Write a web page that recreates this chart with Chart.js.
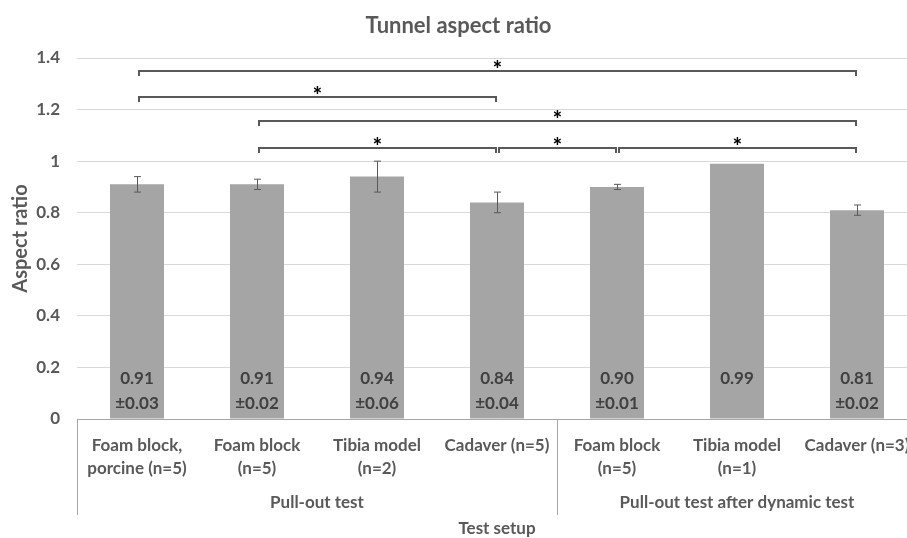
<!DOCTYPE html>
<html>
<head>
<meta charset="utf-8">
<script src="https://cdn.jsdelivr.net/npm/chart.js@4/dist/chart.umd.min.js"></script>
<style>
  html, body { margin: 0; padding: 0; background: #fff; overflow: hidden; }
  #wrap { width: 940px; height: 538px; }
</style>
</head>
<body>
<div id="wrap"><canvas id="aspectChart"></canvas></div>
<script>
// data
const categories = [
  ['Foam block,', 'porcine (n=5)'],
  ['Foam block', '(n=5)'],
  ['Tibia model', '(n=2)'],
  ['Cadaver (n=5)'],
  ['Foam block', '(n=5)'],
  ['Tibia model', '(n=1)'],
  ['Cadaver (n=3)']
];
const ratios = [0.91, 0.91, 0.94, 0.84, 0.90, 0.99, 0.81];
const errors = [0.03, 0.02, 0.06, 0.04, 0.01, null, 0.02];
const yTickLabels = ['0', '0.2', '0.4', '0.6', '0.8', '1', '1.2', '1.4'];

// groups of the x axis
const groupNames = ['Pull-out test', 'Pull-out test after dynamic test'];
const groupStart = [0, 4];
const groupEnd = [3, 6];

// significance brackets (category index from/to, height in axis units)
const sigFrom = [0, 0, 1, 1, 3, 4];
const sigTo = [6, 3, 6, 3, 4, 6];
const sigLevel = [1.35, 1.25, 1.155, 1.05, 1.05, 1.05];

const textGrey = '#595959';
const font = 'Lato, "Open Sans", sans-serif';

// error bars, value labels, brackets, group labels
const extras = {
  id: 'extras',
  afterDatasetsDraw(chart) {
    const ctx = chart.ctx;
    const x = chart.scales.x;
    const y = chart.scales.y;
    const base = y.getPixelForValue(0);
    ctx.save();

    // error bars
    ctx.strokeStyle = textGrey;
    ctx.lineWidth = 1;
    ratios.forEach((v, i) => {
      if (errors[i] == null) return;
      const cx = Math.round(x.getPixelForValue(i)) + 0.5;
      const top = y.getPixelForValue(v + errors[i]);
      const bot = y.getPixelForValue(v - errors[i]);
      ctx.beginPath();
      ctx.moveTo(cx, top); ctx.lineTo(cx, bot);
      ctx.moveTo(cx - 3.5, top); ctx.lineTo(cx + 3.5, top);
      ctx.moveTo(cx - 3.5, bot); ctx.lineTo(cx + 3.5, bot);
      ctx.stroke();
    });

    // labels inside the bars
    ctx.fillStyle = '#404040';
    ctx.font = 'bold 17px ' + font;
    ctx.textAlign = 'center';
    ctx.textBaseline = 'middle';
    ratios.forEach((v, i) => {
      const cx = x.getPixelForValue(i);
      ctx.fillText(v.toFixed(2), cx, base - 40);
      if (errors[i] != null) ctx.fillText('\u00b1' + errors[i].toFixed(2), cx, base - 15);
    });

    // brackets
    ctx.strokeStyle = textGrey;
    ctx.lineWidth = 2;
    ctx.fillStyle = '#000';
    ctx.font = '900 22px ' + font;
    ctx.textBaseline = 'alphabetic';
    sigFrom.forEach((f, k) => {
      const x1 = x.getPixelForValue(f) + 2;
      const x2 = x.getPixelForValue(sigTo[k]) - 1;
      const ly = Math.round(y.getPixelForValue(sigLevel[k]));
      ctx.beginPath();
      ctx.moveTo(x1, ly + 5);
      ctx.lineTo(x1, ly);
      ctx.lineTo(x2, ly);
      ctx.lineTo(x2, ly + 5);
      ctx.stroke();
      ctx.fillText('*', (x1 + x2) / 2, ly + 6);
    });

    // group separators and labels
    const half = (x.getPixelForValue(1) - x.getPixelForValue(0)) / 2;
    ctx.strokeStyle = '#a6a6a6';
    ctx.lineWidth = 1;
    ctx.fillStyle = textGrey;
    ctx.font = 'bold 17px ' + font;
    ctx.textBaseline = 'middle';
    groupNames.forEach((g, k) => {
      const left = x.getPixelForValue(groupStart[k]) - half;
      const right = x.getPixelForValue(groupEnd[k]) + half;
      [left, right].forEach(px => {
        ctx.beginPath();
        ctx.moveTo(Math.round(px) + 0.5, base);
        ctx.lineTo(Math.round(px) + 0.5, base + 96);
        ctx.stroke();
      });
      ctx.fillText(g, (left + right) / 2, base + 84);
    });
    ctx.restore();
  }
};

new Chart(document.getElementById('aspectChart'), {
  type: 'bar',
  data: {
    labels: categories,
    datasets: [{
      data: ratios,
      backgroundColor: '#a5a5a5',
      categoryPercentage: 1,
      barPercentage: 0.45
    }]
  },
  options: {
    responsive: true,
    maintainAspectRatio: false,
    animation: false,
    layout: { padding: { left: 0, right: 23, top: 0, bottom: 0 } },
    plugins: {
      legend: { display: false },
      tooltip: { enabled: false },
      title: {
        display: true,
        text: 'Tunnel aspect ratio',
        color: textGrey,
        font: { family: font, size: 22, weight: 'bold', lineHeight: 1.2 },
        padding: { top: 13, bottom: 18.6 }
      }
    },
    scales: {
      x: {
        grid: { display: false, drawTicks: false },
        border: { display: true, color: '#a6a6a6' },
        ticks: {
          color: textGrey,
          font: { family: font, size: 17, weight: 'bold', lineHeight: 1.36 },
          padding: 15,
          maxRotation: 0,
          autoSkip: false
        },
        title: {
          display: true,
          text: 'Test setup',
          color: textGrey,
          font: { family: font, size: 17, weight: 'bold', lineHeight: 1.2 },
          padding: { top: 0, bottom: -1 }
        },
        afterFit: scale => { scale.height = 119; }
      },
      y: {
        min: 0,
        max: 1.4,
        ticks: {
          stepSize: 0.2,
          color: textGrey,
          font: { family: font, size: 17, weight: 'bold' },
          padding: 17,
          callback: (v, i) => yTickLabels[i]
        },
        grid: { color: '#d9d9d9', drawTicks: false },
        border: { display: false },
        title: {
          display: true,
          text: 'Aspect ratio',
          color: textGrey,
          font: { family: font, size: 20, weight: 'bold', lineHeight: 1.2 },
          padding: { top: 9, bottom: 0 }
        },
        afterFit: scale => { scale.width = 77; }
      }
    }
  },
  plugins: [extras]
});
</script>
</body>
</html>
